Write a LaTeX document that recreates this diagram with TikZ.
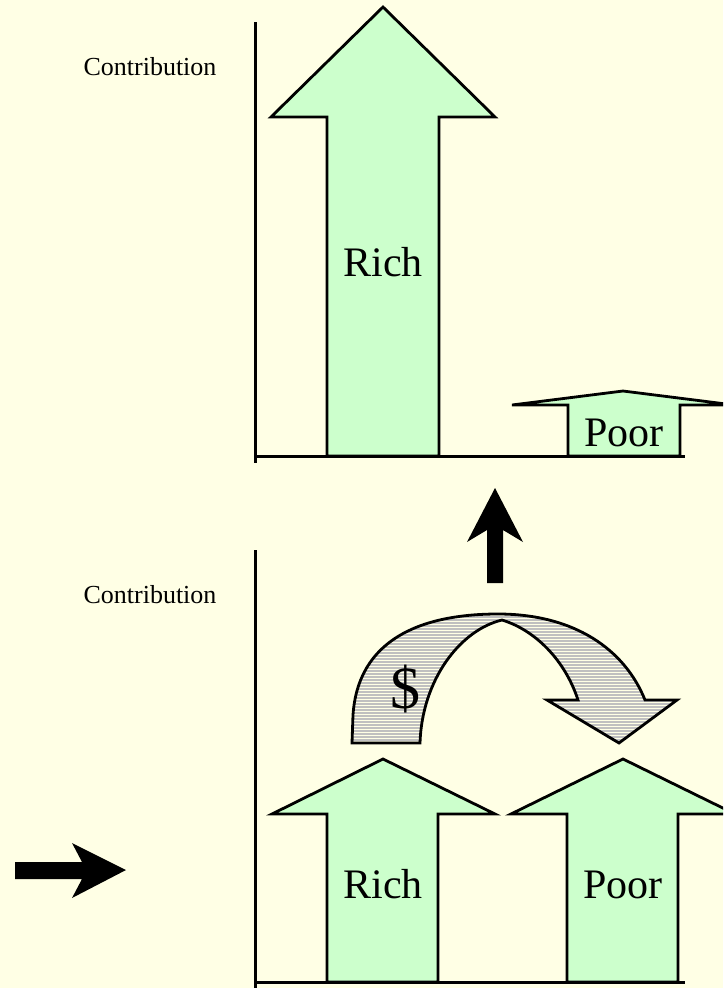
\documentclass[tikz,border=0pt]{standalone}
\usepackage{fontspec}
\setmainfont{Liberation Serif}
\usetikzlibrary{patterns}
\definecolor{paper}{HTML}{FFFFE5}
\definecolor{mint}{HTML}{CCFFCC}
\definecolor{money}{HTML}{C0C0C0}

\begin{document}
\begin{tikzpicture}[x=1pt, y=-1pt,
  axis/.style={line width=3pt},
  share/.style={draw, fill=mint, line width=2.8pt, line join=miter},
  bigword/.style={font=\fontsize{42}{48}\selectfont, anchor=base},
  ylab/.style={font=\fontsize{26}{30}\selectfont, anchor=base}]
\fill[paper] (0,0) rectangle (723,988);
\clip (0,0) rectangle (723,988);

% upper chart
\draw[axis] (255,22) -- (255,463);
\draw[axis] (255,456) -- (685,456);
\node[ylab] (ylabtop) at (150,75) {Contribution};
\draw[share] (383,7) -- (495,117) -- (439,117) -- (439,456) -- (327,456) -- (327,117) -- (271,117) -- cycle;
\draw[share] (623,391) -- (734,405) -- (680,405) -- (680,456) -- (568,456) -- (568,405) -- (512,405) -- cycle;
\node[bigword] (richtop) at (383,276) {Rich};
\node[bigword] (poortop) at (624,446) {Poor};

% black arrows
\fill (495,488) -- (523,542) -- (503,530) -- (503,583) -- (487,583) -- (487,530) -- (467,542) -- cycle;
\fill (126,870) -- (72,898) -- (82,879) -- (15,879) -- (15,862) -- (82,862) -- (72,843) -- cycle;

% lower chart
\draw[axis] (255,550) -- (255,988);
\draw[axis] (255,982) -- (685,982);
\node[ylab] (ylabbot) at (150,603) {Contribution};
\draw[share] (383,759) -- (495,814) -- (438,814) -- (438,982) -- (327,982) -- (327,814) -- (272,814) -- cycle;
\draw[share] (623,759) -- (735,814) -- (678,814) -- (678,982) -- (567,982) -- (567,814) -- (511,814) -- cycle;
\node[bigword] (richbot) at (383,898) {Rich};
\node[bigword] (poorbot) at (623,898) {Poor};

% transfer
\draw[line width=2.8pt, line join=miter, preaction={fill=money}, pattern=horizontal lines, pattern color=paper]
  (352,743) -- (353,715) .. controls (358,640) and (420,614) .. (498,614)
  .. controls (575,614) and (625,650) .. (645,700) -- (677,700) -- (619,743) -- (547,700) -- (578,700)
  .. controls (565,660) and (535,630) .. (502,620)
  .. controls (460,630) and (422,680) .. (420,743) -- cycle;
\node[font=\fontsize{60}{66}\selectfont] (dollar) at (405,689) {\$};
\end{tikzpicture}
\end{document}
